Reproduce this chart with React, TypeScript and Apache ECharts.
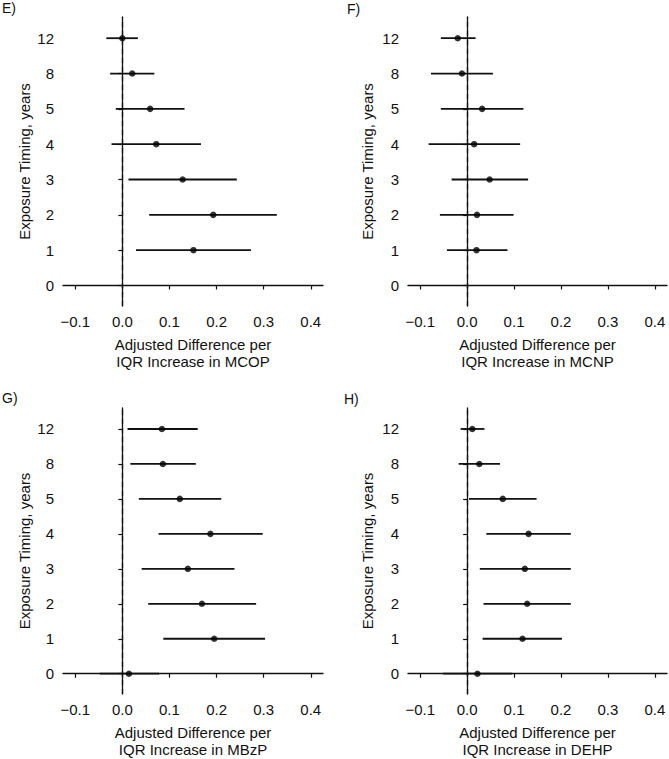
import React, { useEffect, useRef } from "react";
import * as echarts from "echarts";

const timingLabels = ["0", "1", "2", "3", "4", "5", "8", "12"];
const xTicks = [-0.1, 0.0, 0.1, 0.2, 0.3, 0.4];

// index order follows timingLabels: 0,1,2,3,4,5,8,12
const mcopEst = [null, 0.151, 0.193, 0.128, 0.072, 0.059, 0.021, 0.0];
const mcopLo = [null, 0.029, 0.057, 0.013, -0.023, -0.014, -0.026, -0.034];
const mcopHi = [null, 0.273, 0.328, 0.243, 0.167, 0.132, 0.068, 0.033];

const mcnpEst = [null, 0.020, 0.021, 0.048, 0.015, 0.032, -0.011, -0.020];
const mcnpLo = [null, -0.043, -0.058, -0.033, -0.082, -0.056, -0.077, -0.056];
const mcnpHi = [null, 0.086, 0.099, 0.130, 0.113, 0.120, 0.055, 0.018];

const mbzpEst = [0.014, 0.195, 0.169, 0.139, 0.187, 0.122, 0.086, 0.084];
const mbzpLo = [-0.048, 0.087, 0.055, 0.041, 0.077, 0.035, 0.017, 0.011];
const mbzpHi = [0.078, 0.303, 0.284, 0.238, 0.298, 0.210, 0.156, 0.160];

const dehpEst = [0.022, 0.118, 0.128, 0.123, 0.131, 0.076, 0.026, 0.011];
const dehpLo = [-0.051, 0.033, 0.035, 0.027, 0.041, 0.004, -0.018, -0.014];
const dehpHi = [0.096, 0.202, 0.221, 0.221, 0.221, 0.148, 0.070, 0.037];

const panelLetters = ["E)", "F)", "G)", "H)"];
const panelChemicals = ["MCOP", "MCNP", "MBzP", "DEHP"];

const FONT = "Liberation Sans, Arial, sans-serif";
const INK = "#111111";

export default function App() {
  const ref = useRef<HTMLDivElement>(null);

  useEffect(() => {
    if (!ref.current) return;
    const chart = echarts.init(ref.current, undefined, { renderer: "svg" });

    const panels = [
      { est: mcopEst, lo: mcopLo, hi: mcopHi },
      { est: mcnpEst, lo: mcnpLo, hi: mcnpHi },
      { est: mbzpEst, lo: mbzpLo, hi: mbzpHi },
      { est: dehpEst, lo: dehpLo, hi: dehpHi },
    ];

    const grids = [
      { left: 63, top: 17, width: 260, height: 289 },
      { left: 408, top: 17, width: 259, height: 289 },
      { left: 63, top: 408, width: 260, height: 290 },
      { left: 408, top: 408, width: 259, height: 290 },
    ];
    const yNameGaps = [31, 33, 31, 33];

    const xAxes = grids.map((_, i) => ({
      type: "value",
      gridIndex: i,
      min: -0.126,
      max: 0.426,
      splitLine: { show: false },
      axisLine: { show: true, lineStyle: { color: INK, width: 1.3 } },
      axisTick: {
        show: true,
        length: 4,
        customValues: xTicks,
        lineStyle: { color: INK, width: 1.2 },
      },
      axisLabel: {
        customValues: xTicks,
        margin: 8,
        color: INK,
        fontSize: 15,
        fontFamily: FONT,
        formatter: (v: number) => {
          const s = Math.abs(v).toFixed(1);
          return v < -1e-9 ? "\u2212" + s : s;
        },
      },
      name: "Adjusted Difference per\nIQR Increase in " + panelChemicals[i],
      nameLocation: "middle",
      nameGap: 30,
      nameTextStyle: {
        color: INK,
        fontSize: 15,
        fontFamily: FONT,
        lineHeight: 17,
      },
    }));

    const yAxes = grids.map((_, i) => ({
      type: "value",
      gridIndex: i,
      min: -0.58,
      max: 7.6,
      splitLine: { show: false },
      axisLine: { show: true, lineStyle: { color: INK, width: 1.3 } },
      axisTick: {
        show: true,
        length: 4,
        customValues: timingLabels.map((_, k) => k),
        lineStyle: { color: INK, width: 1.2 },
      },
      axisLabel: {
        customValues: timingLabels.map((_, k) => k),
        margin: 9,
        color: INK,
        fontSize: 15,
        fontFamily: FONT,
        formatter: (v: number) => timingLabels[Math.round(v)] ?? "",
      },
      name: "Exposure Timing, years",
      nameLocation: "middle",
      nameGap: yNameGaps[i],
      nameRotate: 90,
      nameTextStyle: { color: INK, fontSize: 15, fontFamily: FONT },
    }));

    const series: any[] = [];
    panels.forEach((p, i) => {
      const barData: number[][] = [];
      const ptData: number[][] = [];
      p.est.forEach((e, k) => {
        if (e === null || p.lo[k] === null || p.hi[k] === null) return;
        barData.push([k, p.lo[k] as number, p.hi[k] as number]);
        ptData.push([e as number, k]);
      });
      series.push({
        type: "custom",
        xAxisIndex: i,
        yAxisIndex: i,
        silent: true,
        encode: { x: [1, 2], y: 0 },
        data: barData,
        renderItem: (_params: any, api: any) => {
          const y = api.value(0);
          const a = api.coord([api.value(1), y]);
          const b = api.coord([api.value(2), y]);
          return {
            type: "line",
            shape: { x1: a[0], y1: a[1], x2: b[0], y2: b[1] },
            style: { stroke: INK, lineWidth: 1.8 },
          };
        },
        z: 2,
      });
      series.push({
        type: "scatter",
        xAxisIndex: i,
        yAxisIndex: i,
        data: ptData,
        symbol: "circle",
        symbolSize: 6.5,
        itemStyle: { color: "#000000" },
        z: 3,
        markLine: {
          silent: true,
          symbol: ["none", "none"],
          label: { show: false },
          lineStyle: { color: INK, type: [5, 4], width: 1.3 },
          data: [{ xAxis: 0 }],
        },
      });
    });

    const letterPos = [
      { x: 2, y: 8 },
      { x: 347, y: 9 },
      { x: 2, y: 398 },
      { x: 344, y: 399 },
    ];

    chart.setOption({
      animation: false,
      backgroundColor: "#ffffff",
      grid: grids,
      xAxis: xAxes,
      yAxis: yAxes,
      series,
      graphic: panelLetters.map((t, i) => ({
        type: "text",
        x: letterPos[i].x,
        y: letterPos[i].y,
        style: {
          text: t,
          fill: INK,
          fontSize: 14,
          fontFamily: FONT,
          verticalAlign: "middle",
        },
      })),
    });

    return () => chart.dispose();
  }, []);

  return (
    <div
      ref={ref}
      style={{ position: "absolute", left: 0, top: 0, width: 669, height: 759 }}
    />
  );
}
